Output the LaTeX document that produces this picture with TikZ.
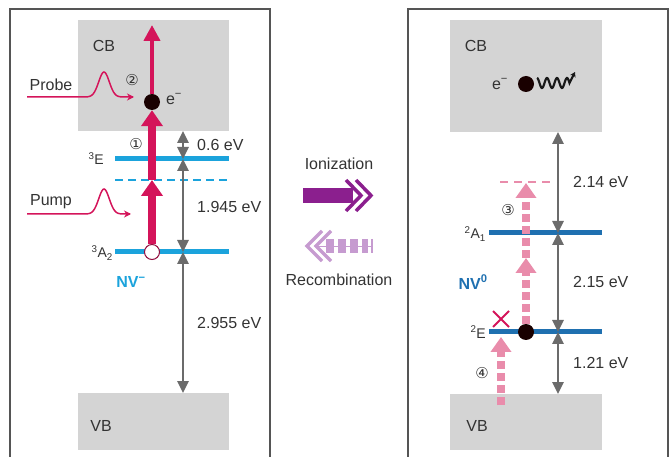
\documentclass[tikz,border=0pt]{standalone}
\usepackage{fontspec}
\setmainfont{Liberation Sans}
\newfontfamily\circfont{DejaVu Sans}
\usetikzlibrary{arrows.meta}

\definecolor{bandgray}{HTML}{D4D4D4}
\definecolor{framegray}{HTML}{555555}
\definecolor{txtgray}{HTML}{333333}
\definecolor{gapgray}{HTML}{6B6B6B}
\definecolor{nvcyan}{HTML}{1BA3DC}
\definecolor{nvblue}{HTML}{1F70B0}
\definecolor{laser}{HTML}{D4145A}
\definecolor{pinkish}{HTML}{E98CAB}
\definecolor{ionpurple}{HTML}{8B1F8E}
\definecolor{recpurple}{HTML}{C69BD0}

\begin{document}
\begin{tikzpicture}[x=1pt,y=-1pt,
    every node/.style={font=\fontsize{16}{19}\selectfont, text=txtgray, inner sep=0pt},
    frame/.style={draw=framegray, line width=1.2pt},
    band/.style={fill=bandgray},
    levelL/.style={draw=nvcyan, line width=5pt},
    levelR/.style={draw=nvblue, line width=5pt},
    gap/.style={draw=gapgray, line width=2.5pt, {Triangle[width=11pt,length=12pt]}-{Triangle[width=11pt,length=12pt]}},
    pumpup/.style={draw=laser, line width=8pt, -{Triangle[width=21pt,length=16pt]}},
    probeup/.style={draw=laser, line width=4pt, -{Triangle[width=16pt,length=16pt]}},
    pulse/.style={draw=laser, line width=1.5pt, -{Stealth[width=7pt,length=7pt]}},
    relax/.style={draw=pinkish, line width=8pt, dash pattern=on 8pt off 4pt,
        -{Triangle[width=20pt,length=15pt]}},
    elec/.style={circle, fill=black!90!red, minimum size=16pt},
    hole/.style={circle, draw=laser!70!black, line width=1pt, fill=white, minimum size=15pt},
    circnum/.style={font=\circfont\fontsize{15}{18}\selectfont},
    elabel/.style={anchor=west}]
    \useasboundingbox (0,0) rectangle (670,457);

    % panels
    \draw[frame] (10,457) -- (10,9) -- (270,9) -- (270,457);
    \draw[frame] (408,457) -- (408,9) -- (668,9) -- (668,457);

    % ---------- NV^- ----------
    \fill[band] (78,20) rectangle (229,131);
    \fill[band] (78,393) rectangle (229,450);
    \node (cbL) at (104,46) {CB};
    \node (vbL) at (101,426) {VB};
    \draw[levelL] (115,159) -- (229,159);
    \draw[levelL, line width=2.5pt, dash pattern=on 8pt off 5pt] (115,180) -- (229,180);
    \draw[levelL] (115,252) -- (229,252);
    \node[anchor=base east] (lvE) at (104,165) {\fontsize{14}{16}\selectfont\textsuperscript{3}E};
    \node[anchor=base east] (lvA) at (113,258) {\fontsize{14}{16}\selectfont\textsuperscript{3}A\textsubscript{2}};
    \node[text=nvcyan, font=\fontsize{16}{19}\selectfont\bfseries] (nvm) at (131,282) {NV\textsuperscript{−}};

    \coordinate (gL1) at (183,131);
    \coordinate (gL2) at (183,159);
    \coordinate (gL3) at (183,252);
    \coordinate (gL4) at (183,393);
    \draw[gap] (gL1) -- (gL2);
    \draw[gap] (gL2) -- (gL3);
    \draw[gap] (gL3) -- (gL4);
    \node[elabel] at (197,145) {0.6 eV};
    \node[elabel] at (197,207) {1.945 eV};
    \node[elabel] at (197,323) {2.955 eV};

    \node[hole] (holeL) at (152,252) {};
    \node[elec] (elecL) at (152,102) {};
    \coordinate (virtL) at (152,180);
    \coordinate (topL) at (152,25);
    \draw[pumpup] (holeL) -- (virtL);
    \draw[pumpup] (virtL) -- (elecL);
    \draw[probeup] (elecL) -- (topL);
    \node (eminusL) at (174,99) {e\textsuperscript{−}};
    \node[circnum] (n1) at (136,144) {①};
    \node[circnum] (n2) at (132,80) {②};

    \node (probe) at (51,85) {Probe};
    \node (pump) at (51,202) {Pump};
    \draw[pulse] plot[domain=27:134, samples=90]
        (\x, {97 - 25*exp(-((\x-104)/7.5)^2)});
    \draw[pulse] plot[domain=27:131, samples=90]
        (\x, {214 - 25*exp(-((\x-104)/7.5)^2)});

    % ---------- arrows between ----------
    \node (ion) at (339,164) {Ionization};
    \node (rec) at (339,280) {Recombination};
    \fill[ionpurple] (303,188) rectangle (353,203);
    \draw[ionpurple, line width=3.5pt] (346,180) -- (361,195.5) -- (346,211);
    \draw[ionpurple, line width=3.5pt] (356,180) -- (371,195.5) -- (356,211);
    \draw[recpurple, line width=0.8pt] (316,246) -- (372,246);
    \draw[recpurple, line width=14pt, dash pattern=on 8pt off 4pt] (326,246) -- (368,246);
    \draw[recpurple, line width=2pt] (372,239) -- (372,253);
    \draw[recpurple, line width=3.5pt] (322,231) -- (307,246) -- (322,261);
    \draw[recpurple, line width=3.5pt] (331,231) -- (316,246) -- (331,261);

    % ---------- NV^0 ----------
    \fill[band] (450,20) rectangle (602,132);
    \fill[band] (450,394) rectangle (602,450);
    \node (cbR) at (476,46) {CB};
    \node (vbR) at (477,426) {VB};
    \draw[levelR] (489,233) -- (602,233);
    \draw[levelR] (489,332) -- (602,332);
    \draw[pinkish, line width=2.5pt, dash pattern=on 8pt off 6pt] (500,182) -- (553,182);
    \node[anchor=base east] (lvA1) at (486,239) {\fontsize{14}{16}\selectfont\textsuperscript{2}A\textsubscript{1}};
    \node[anchor=base east] (lvE2) at (486,338) {\fontsize{14}{16}\selectfont\textsuperscript{2}E};
    \node[text=nvblue, font=\fontsize{16}{19}\selectfont\bfseries] (nv0) at (473,282) {NV\textsuperscript{0}};

    \coordinate (gR1) at (558,132);
    \coordinate (gR2) at (558,233);
    \coordinate (gR3) at (558,332);
    \coordinate (gR4) at (558,394);
    \draw[gap] (gR1) -- (gR2);
    \draw[gap] (gR2) -- (gR3);
    \draw[gap] (gR3) -- (gR4);
    \node[elabel] at (573,182) {2.14 eV};
    \node[elabel] at (573,282) {2.15 eV};
    \node[elabel] at (573,363) {1.21 eV};

    \node[elec] (elecR) at (526,332) {};
    \coordinate (midR) at (526,258);
    \coordinate (topR) at (526,183);
    \coordinate (vbtop) at (501,405);
    \coordinate (lvEx) at (501,337);
    \draw[relax] (elecR) -- (midR);
    \draw[relax] (midR) -- (topR);
    \draw[relax] (vbtop) -- (lvEx);
    \draw[laser, line width=2pt] (493,311) -- (509,327) (493,327) -- (509,311);
    \node[circnum] (n3) at (508,210) {③};
    \node[circnum] (n4) at (482,373) {④};

    \node (eminusR) at (500,84) {e\textsuperscript{−}};
    \node[elec] (freeR) at (526,84) {};
    \draw[black!90, line width=2.2pt, -{Stealth[width=6pt,length=5pt]}]
        plot[domain=0:3.25, samples=60] ({537+\x*10}, {83 - 5*cos(\x*360)}) -- (575,72);
\end{tikzpicture}
\end{document}
